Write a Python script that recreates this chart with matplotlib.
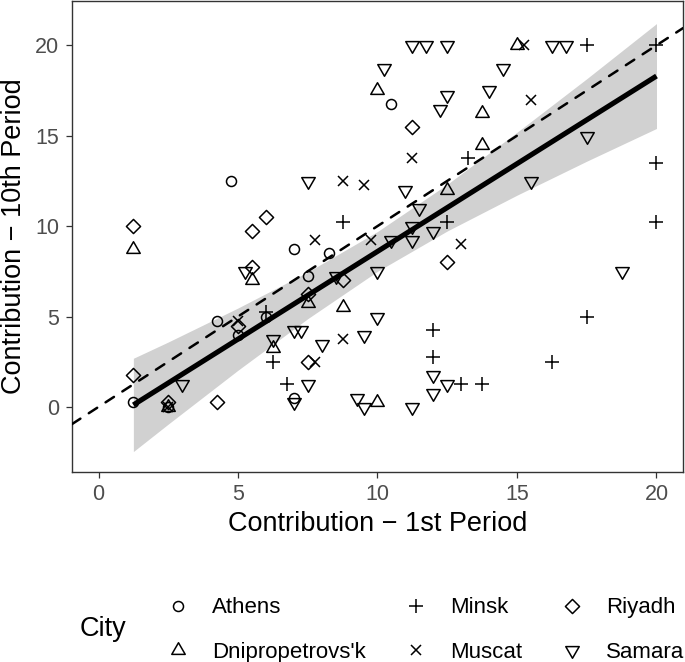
import numpy as np
import matplotlib
matplotlib.use("Agg")
import matplotlib.pyplot as plt
from matplotlib.path import Path

plt.rcParams['font.family'] = ['Liberation Sans', 'DejaVu Sans']

# contributions, per city (1st period, 10th period)
athens_x = [1.25, 2.5, 4.25, 4.75, 5, 6, 7, 7, 7.5, 8.25, 10.5]
athens_y = [0.25, 0, 4.75, 12.5, 4, 5, 0.5, 8.75, 7.25, 8.5, 16.75]

dnip_x = [1.25, 2.5, 5.5, 6.25, 7.5, 8.75, 10, 10, 12.5, 13.75, 13.75, 15]
dnip_y = [8.75, 0, 7, 3.25, 5.75, 5.5, 0.25, 17.5, 12, 14.5, 16.25, 20]

minsk_x = [6, 6.25, 6.75, 8.75, 12.5, 13.25, 12, 12, 13, 13.75, 16.25, 17.5, 17.5, 20, 20, 20]
minsk_y = [5.25, 2.5, 1.25, 10.25, 10.25, 13.75, 4.25, 2.75, 1.25, 1.25, 2.5, 5, 20, 20, 13.5, 10.25]

muscat_x = [2.5, 5, 7.75, 7.75, 8.75, 8.75, 9.5, 9.75, 11.25, 13, 15.25, 15.5]
muscat_y = [0, 4.75, 2.5, 9.25, 3.75, 12.5, 12.25, 9.25, 13.75, 9, 20, 17]

riyadh_x = [1.25, 1.25, 2.5, 4.25, 5, 5.5, 5.5, 6, 7.5, 7.5, 8.75, 11.25, 12.5]
riyadh_y = [1.75, 10, 0.25, 0.25, 4.5, 7.75, 9.75, 10.5, 2.5, 6.25, 7, 15.5, 8]

samara_x = [3, 5.25, 6.25, 7, 7, 7.25, 7.5, 7.5, 8, 8.5, 9.25, 9.5, 9.5, 10, 10,
            10.25, 10.5, 11, 11.25, 11.25, 11.25, 11.25, 11.5, 11.75, 12, 12, 12,
            12.25, 12.5, 12.5, 12.5, 14, 14.5, 15.5, 16.25, 16.75, 17.5, 18.75]
samara_y = [1.25, 7.5, 3.75, 0.25, 4.25, 4.25, 1.25, 12.5, 3.5, 7.25, 0.5, 0, 4, 5, 7.5,
            18.75, 9.25, 12, 0, 9.25, 10, 20, 11, 20, 0.75, 1.75, 9.75,
            16.5, 1.25, 17.25, 20, 17.5, 18.75, 12.5, 20, 20, 15, 7.5]

# linear fit and its 95% band
fit_x = [1.25, 20]
fit_y = [0.11, 18.3]
band_x = [1.25, 2.5, 5, 7.5, 10, 12.5, 15, 17.5, 20]
band_lo = [-2.47, -0.95, 2.03, 4.88, 7.5, 9.73, 11.71, 13.59, 15.4]
band_hi = [2.69, 3.59, 5.47, 7.46, 9.7, 12.31, 15.19, 18.15, 21.2]

cities = ["Athens", "Dnipropetrovs'k", "Minsk", "Muscat", "Riyadh", "Samara"]

# marker shapes like R pch 1..6 (unit = marker radius)
tri = [(0, 1.5551), (1.3468, -0.7776), (-1.3468, -0.7776), (0, 1.5551)]
tri_up = Path(tri, closed=True)
tri_down = Path([(x, -y) for x, y in tri], closed=True)
diamond = Path([(0, 1.414), (1.414, 0), (0, -1.414), (-1.414, 0), (0, 1.414)], closed=True)

s = 3.6  # marker radius in points
styles = {
    "Athens": ("o", 2 * s),
    "Dnipropetrovs'k": (tri_up, 2 * 1.5551 * s),
    "Minsk": ("+", 2 * 1.414 * s),
    "Muscat": ("x", 2 * s),
    "Riyadh": (diamond, 2 * 1.414 * s),
    "Samara": (tri_down, 2 * 1.5551 * s),
}
data = {
    "Athens": (athens_x, athens_y),
    "Dnipropetrovs'k": (dnip_x, dnip_y),
    "Minsk": (minsk_x, minsk_y),
    "Muscat": (muscat_x, muscat_y),
    "Riyadh": (riyadh_x, riyadh_y),
    "Samara": (samara_x, samara_y),
}

fig = plt.figure(figsize=(6.85, 6.62), dpi=100)
ax = fig.add_axes([72 / 685, 1 - 472 / 662, 611 / 685, 471 / 662])

for c in cities:
    m, ms = styles[c]
    x, y = data[c]
    ax.plot(x, y, linestyle="none", marker=m, markersize=ms, markerfacecolor="none",
            markeredgecolor="black", markeredgewidth=1.1, label=c, zorder=2)

ax.fill_between(band_x, band_lo, band_hi, color="#999999", alpha=0.45, linewidth=0, zorder=1)
ax.plot(fit_x, fit_y, color="black", linewidth=3.7, solid_capstyle="butt", zorder=3)

# 45 degree reference line
ax.axline((0, 0), slope=1, color="black", linewidth=1.8, dashes=(4, 4),
          dash_capstyle="round", zorder=3)

ax.set_xlim(-0.95, 20.95)
ax.set_ylim(-3.6, 22.45)
ax.set_xticks([0, 5, 10, 15, 20])
ax.set_yticks([0, 5, 10, 15, 20])
for sp in ax.spines.values():
    sp.set_color("#333333")
    sp.set_linewidth(1.0)
ax.tick_params(colors="#333333", labelcolor="#4D4D4D", labelsize=15.5,
               length=4, width=0.9, pad=5)
ax.set_xlabel("Contribution \u2212 1st Period", fontsize=19.5, labelpad=4)
ax.set_ylabel("Contribution \u2212 10th Period", fontsize=19.5, labelpad=6)

leg = ax.legend(loc="center left", bbox_to_anchor=(167 / 685, 1 - 630 / 662),
                bbox_transform=fig.transFigure, ncol=3, frameon=False,
                fontsize=16, handlelength=1.0, handletextpad=1.03,
                columnspacing=1.75, labelspacing=1.05, borderpad=0, borderaxespad=0)
fig.text(80 / 685, 1 - 629 / 662, "City", fontsize=19.5, va="center", ha="left")

fig.savefig("out.png", dpi=100)
